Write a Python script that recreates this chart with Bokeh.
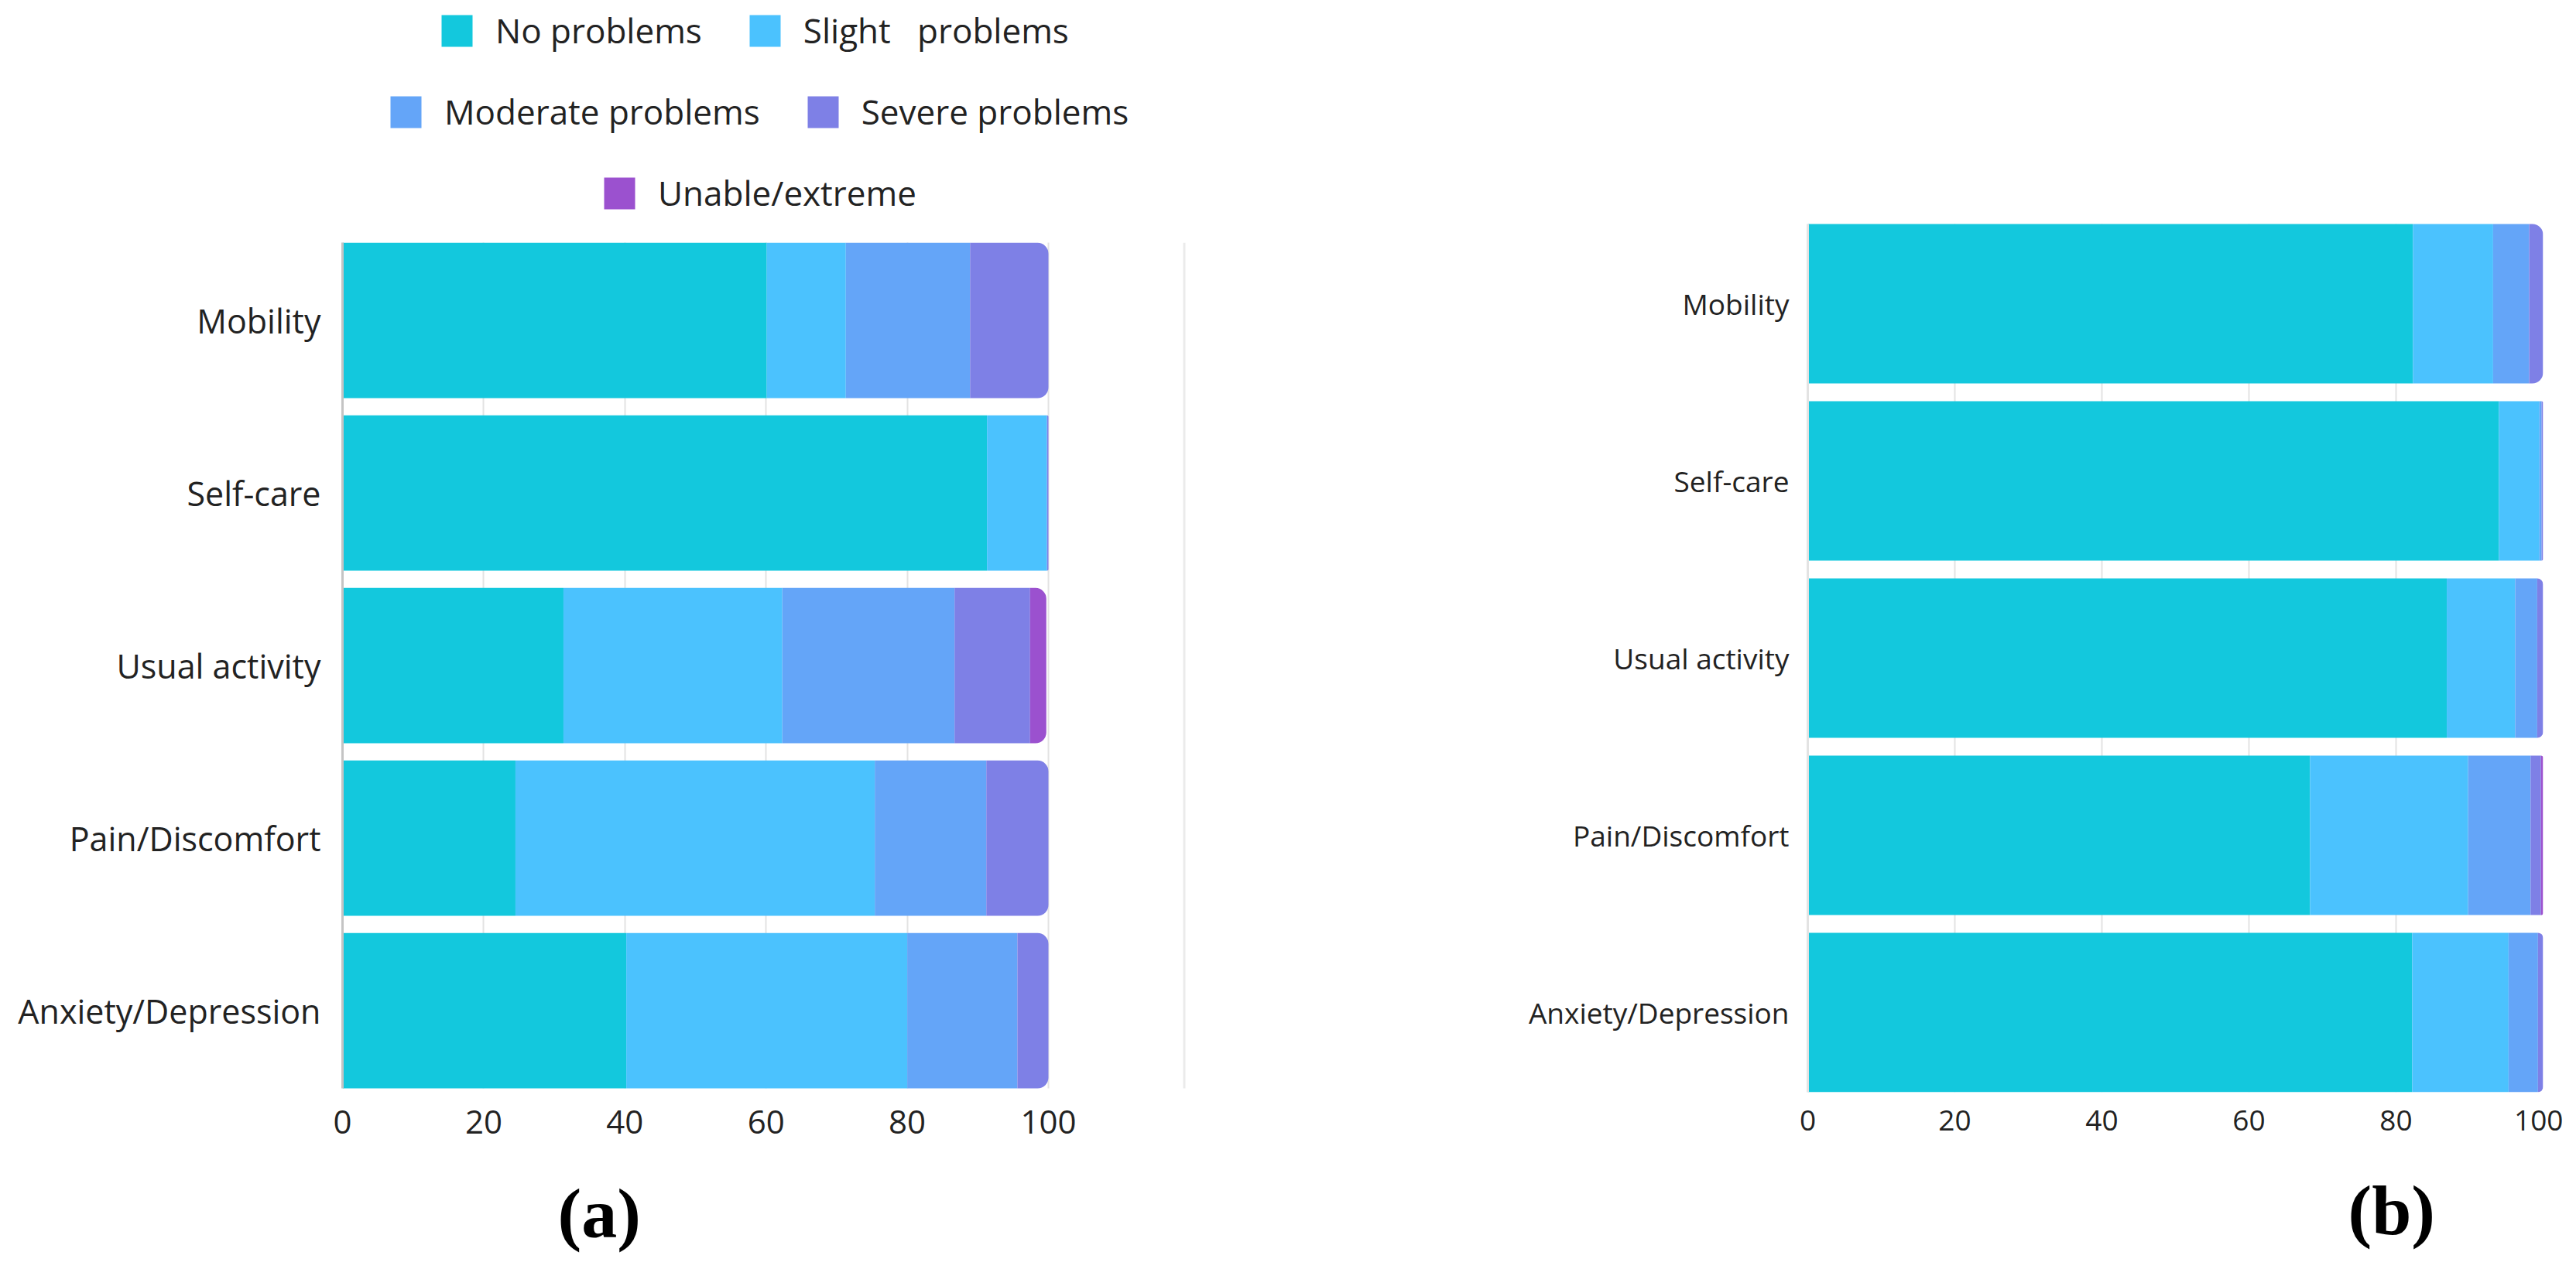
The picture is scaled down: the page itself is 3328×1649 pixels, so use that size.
from bokeh.plotting import figure
from bokeh.models import (Range1d, FixedTicker, Legend, LegendItem, Title,
                          BoxAnnotation, ColumnDataSource)
from bokeh.layouts import row
from bokeh.embed import file_html
from bokeh.resources import INLINE

# ---------------- data ----------------
categories = ["Mobility", "Self-care", "Usual activity", "Pain/Discomfort", "Anxiety/Depression"]
levels = ["No problems", "Slight   problems", "Moderate problems", "Severe problems", "Unable/extreme"]
colors = ["#13C8DD", "#4BC2FE", "#64A5F8", "#7E80E6", "#9B51CF"]

a_no       = [60.1, 91.3, 31.3, 24.5, 40.2]
a_slight   = [11.2,  8.5, 31.0, 50.9, 39.8]
a_moderate = [17.6,  0.0, 24.4, 15.8, 15.6]
a_severe   = [11.1,  0.2, 10.7,  8.8,  4.4]
a_unable   = [ 0.0,  0.0,  2.3,  0.0,  0.0]

b_no       = [82.3, 94.0, 86.9, 68.3, 82.2]
b_slight   = [10.9,  5.5,  9.3, 21.5, 13.1]
b_moderate = [ 4.9,  0.3,  3.0,  8.5,  4.0]
b_severe   = [ 1.9,  0.2,  0.8,  1.4,  0.7]
b_unable   = [ 0.0,  0.0,  0.0,  0.3,  0.0]

x_ticks = [0, 20, 40, 60, 80, 100]
panel_labels = ["(a)", "(b)"]

# ---------------- layout constants ----------------
FONT = "Open Sans"
TEXT = "#222222"
GRID = "#e3e3e3"
BAR_H = 0.9
RADIUS = 14
FRAME_H = 1406
BORDER_TOP = 5
BORDER_BOTTOM = 222

n = len(categories)
ys = [n - 1 - i for i in range(n)]


def draw_bars(p, series):
    cum = [0.0] * n
    last = [max(j for j in range(len(series)) if series[j][i] > 0) for i in range(n)]
    legend_rs = []
    for j, vals in enumerate(series):
        left = cum[:]
        right = [cum[i] + vals[i] for i in range(n)]
        cum = right
        plain = [i for i in range(n) if vals[i] > 0 and last[i] != j]
        rounded = [i for i in range(n) if vals[i] > 0 and last[i] == j]
        rs = []
        for idx, rad in ((plain, 0), (rounded, RADIUS)):
            src = ColumnDataSource(dict(y=[ys[i] for i in idx],
                                        left=[left[i] for i in idx],
                                        right=[right[i] for i in idx]))
            r = p.hbar(y="y", left="left", right="right", height=BAR_H, source=src,
                       fill_color=colors[j], line_color=None,
                       border_radius=(0, rad, rad, 0))
            rs.append((r, len(idx)))
        legend_rs.append(rs[0][0] if rs[0][1] > 0 else rs[1][0])
    return legend_rs


def style(p, label_px, tick_px, axis_line_color, label_standoff):
    p.outline_line_color = None
    p.background_fill_color = "white"
    p.border_fill_color = "white"
    p.xaxis.ticker = FixedTicker(ticks=x_ticks)
    p.xaxis.axis_line_color = None
    p.xaxis.major_tick_line_color = None
    p.xaxis.minor_tick_line_color = None
    p.xaxis.major_label_text_font = FONT
    p.xaxis.major_label_text_font_size = tick_px
    p.xaxis.major_label_text_color = TEXT
    p.xaxis.major_label_standoff = 17
    p.yaxis.ticker = FixedTicker(ticks=ys)
    p.yaxis.major_label_overrides = {ys[i]: categories[i] for i in range(n)}
    p.yaxis.axis_line_color = axis_line_color
    p.yaxis.axis_line_width = 3
    p.yaxis.bounds = (-BAR_H / 2, n - 1 + BAR_H / 2)
    p.yaxis.major_tick_line_color = None
    p.yaxis.minor_tick_line_color = None
    p.yaxis.major_label_text_font = FONT
    p.yaxis.major_label_text_font_size = label_px
    p.yaxis.major_label_text_color = TEXT
    p.yaxis.major_label_standoff = label_standoff
    p.ygrid.grid_line_color = None
    p.xgrid.grid_line_color = GRID
    p.xgrid.grid_line_width = 2
    p.xgrid.cross_bounds = (-BAR_H / 2, n - 1 + BAR_H / 2)


def panel_title(p, text, offset):
    p.add_layout(Title(text=text, align="left", offset=offset, standoff=94,
                       text_font="Liberation Serif", text_font_style="bold",
                       text_font_size="92px", text_color="#000000"), "below")


# ---------------- left panel ----------------
L_BAR_W = 912      # px spanned by 0..100
L_FRAME_W = 1094   # frame extends to the divider
L_UNIT = 223       # px per category
L_Y0 = -BAR_H / 2 - 5 / L_UNIT

p1 = figure(frame_width=L_FRAME_W, frame_height=FRAME_H,
            min_border_left=442, min_border_right=0, min_border_top=BORDER_TOP,
            min_border_bottom=BORDER_BOTTOM,
            x_range=Range1d(0, 100 * L_FRAME_W / L_BAR_W),
            y_range=Range1d(L_Y0, L_Y0 + FRAME_H / L_UNIT),
            toolbar_location=None, output_backend="svg")
rs1 = draw_bars(p1, [a_no, a_slight, a_moderate, a_severe, a_unable])
style(p1, "43px", "42px", "#c4c4c4", 22)

legend_rows = [([0, 1], 123, 1342), ([2, 3], 57, 1237), ([4], 333, 1132)]
for idxs, lx, ly in legend_rows:
    leg = Legend(items=[LegendItem(label=levels[k], renderers=[rs1[k]]) for k in idxs],
                 orientation="horizontal", location=(lx, ly),
                 glyph_width=50, glyph_height=51, label_standoff=25, spacing=56,
                 padding=0, margin=0, border_line_color=None, background_fill_alpha=0,
                 label_text_font=FONT, label_text_font_size="44px",
                 label_text_color=TEXT, label_height=51)
    p1.add_layout(leg)

p1.add_layout(BoxAnnotation(left=100 * 1086 / L_BAR_W, right=100 * 1089 / L_BAR_W,
                            bottom=-BAR_H / 2, top=n - 1 + BAR_H / 2,
                            fill_color="#ebebeb", fill_alpha=1, line_color=None))
panel_title(p1, panel_labels[0], 278)

# ---------------- right panel ----------------
R_UNIT = 229
R_FRAME_W = 950
R_Y0 = -BAR_H / 2

p2 = figure(frame_width=R_FRAME_W, frame_height=FRAME_H,
            min_border_left=799, min_border_right=26, min_border_top=BORDER_TOP,
            min_border_bottom=BORDER_BOTTOM,
            x_range=Range1d(0, 100),
            y_range=Range1d(R_Y0, R_Y0 + FRAME_H / R_UNIT),
            toolbar_location=None, output_backend="svg")
draw_bars(p2, [b_no, b_slight, b_moderate, b_severe, b_unable])
style(p2, "37px", "37px", GRID, 18)
panel_title(p2, panel_labels[1], 698)

layout = row(p1, p2)
open("out.html", "w").write(file_html(layout, INLINE))
